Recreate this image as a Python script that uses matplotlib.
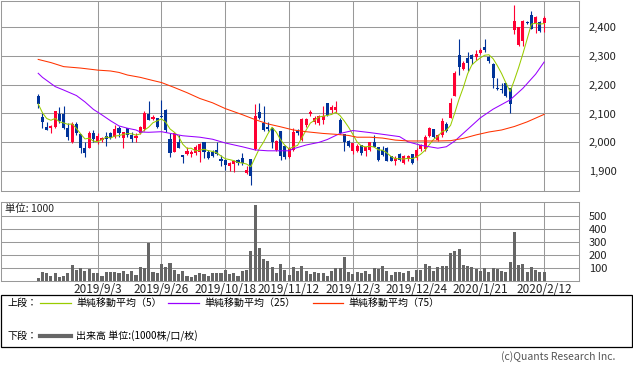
import numpy as np
import pandas as pd
import matplotlib
matplotlib.use("Agg")
from matplotlib import pyplot as plt
from matplotlib.patches import Rectangle
from matplotlib.lines import Line2D

plt.rcParams['font.family'] = ['Noto Sans CJK JP', 'DejaVu Sans']

# daily candles, 2019/8/14 .. 2020/2/12 (trading days)
opens = [2160, 2089, 2054, 2049, 2054, 2097, 2097, 2051, 2000, 2062,
         2029, 1980, 1982, 2031, 2005, 2008, 2023, 2034, 2020, 2049,
         2016, 2051, 2026, 2014, 2034, 2045, 2097, 2080, 2083, 2091,
         2112, 2011, 1968, 2003, 1957, 1960, 1960, 1962, 1968, 2003,
         1968, 1968, 1974, 1942, 1939, 1920, 1925, 1939, 1945, 1893,
         1941, 1976, 2104, 2068, 2055, 2050, 1975, 2038, 1989, 1948,
         1975, 2038, 2009, 2061, 2099, 2069, 2067, 2079, 2136, 2113,
         2113, 2079, 2030, 2004, 1969, 1969, 1992, 1972, 1975, 2000,
         1984, 1975, 1981, 1952, 1934, 1961, 1929, 1941, 1961, 1946,
         1978, 1978, 2023, 2046, 2010, 2025, 2063, 2086, 2161, 2301,
         2253, 2293, 2301, 2296, 2308, 2331, 2294, 2271, 2187, 2184,
         2204, 2187, 2388, 2338, 2352, 2415, 2441, 2414, 2416, 2414]
highs = [2167, 2103, 2072, 2060, 2109, 2123, 2126, 2066, 2072, 2072,
         2029, 2003, 2040, 2043, 2034, 2020, 2035, 2037, 2060, 2057,
         2037, 2051, 2037, 2034, 2058, 2109, 2143, 2095, 2086, 2147,
         2114, 2031, 2031, 2026, 1957, 1985, 1974, 1991, 1997, 2003,
         1974, 1974, 2003, 1957, 1941, 1933, 1939, 1941, 1965, 1918,
         1941, 2133, 2138, 2127, 2070, 2055, 2010, 2040, 1992, 1985,
         2050, 2045, 2085, 2085, 2111, 2090, 2095, 2125, 2138, 2128,
         2142, 2085, 2030, 2010, 1998, 1995, 1992, 1984, 2000, 2027,
         1984, 1986, 1984, 1952, 1952, 1963, 1955, 1955, 1961, 1981,
         1995, 2027, 2052, 2048, 2030, 2086, 2071, 2155, 2247, 2359,
         2283, 2313, 2305, 2318, 2328, 2356, 2299, 2274, 2221, 2204,
         2207, 2187, 2475, 2400, 2423, 2420, 2453, 2437, 2420, 2438]
lows = [2118, 2051, 2043, 2034, 2049, 2066, 2045, 2008, 1997, 2026,
        1965, 1951, 1980, 2003, 1995, 2003, 1989, 2011, 2014, 2020,
        1980, 2020, 2003, 2003, 2030, 2041, 2078, 2077, 2049, 2083,
        2037, 1951, 1966, 1980, 1930, 1957, 1951, 1957, 1933, 1945,
        1943, 1951, 1957, 1920, 1905, 1902, 1896, 1922, 1922, 1891,
        1851, 1974, 2080, 2040, 2040, 1981, 1972, 1940, 1943, 1945,
        1972, 2025, 2005, 2055, 2090, 2065, 2060, 2062, 2092, 2102,
        2102, 2028, 1969, 1985, 1961, 1966, 1958, 1952, 1969, 1984,
        1934, 1952, 1934, 1934, 1923, 1934, 1926, 1936, 1926, 1940,
        1972, 1970, 2020, 2015, 2005, 2020, 2035, 2083, 2161, 2232,
        2250, 2247, 2270, 2285, 2305, 2314, 2274, 2187, 2180, 2170,
        2157, 2103, 2374, 2333, 2332, 2408, 2391, 2379, 2382, 2382]
closes = [2133, 2072, 2043, 2058, 2109, 2075, 2051, 2020, 2064, 2031,
          1980, 1965, 2034, 2011, 2023, 2014, 2013, 2014, 2046, 2031,
          2035, 2026, 2011, 2022, 2054, 2100, 2078, 2087, 2054, 2087,
          2043, 1962, 2031, 1982, 1951, 1970, 1966, 1985, 1993, 1968,
          1945, 1954, 1960, 1937, 1922, 1930, 1936, 1928, 1928, 1904,
          1884, 2091, 2083, 2043, 2045, 2000, 2006, 1952, 1948, 1981,
          2035, 2032, 2081, 2081, 2105, 2083, 2090, 2093, 2096, 2121,
          2121, 2032, 2000, 1989, 1998, 1989, 1963, 1984, 2000, 1984,
          1940, 1958, 1937, 1937, 1946, 1940, 1952, 1952, 1929, 1975,
          1990, 2018, 2050, 2020, 2025, 2075, 2040, 2136, 2239, 2261,
          2276, 2274, 2290, 2305, 2318, 2320, 2283, 2221, 2184, 2182,
          2159, 2133, 2420, 2400, 2420, 2413, 2393, 2434, 2385, 2430]
volumes = [26, 68, 63, 39, 63, 34, 39, 63, 126, 87,
           100, 74, 95, 63, 63, 39, 68, 71, 68, 63,
           74, 55, 79, 47, 110, 97, 292, 71, 63, 134,
           110, 142, 82, 55, 79, 39, 29, 47, 60, 55,
           39, 63, 58, 58, 87, 53, 60, 39, 79, 87,
           229, 587, 253, 166, 153, 108, 60, 134, 82, 47,
           108, 74, 118, 74, 55, 71, 63, 63, 39, 79,
           97, 103, 182, 71, 55, 71, 63, 79, 55, 100,
           89, 118, 79, 47, 68, 71, 60, 79, 32, 87,
           87, 134, 118, 79, 108, 118, 118, 218, 229, 245,
           126, 113, 105, 95, 79, 100, 71, 100, 95, 79,
           66, 150, 379, 126, 134, 71, 110, 87, 71, 71]

# 25 / 75 day averages (candle index, price)
ma25_idx = [0, 1, 4, 6, 9, 11, 13, 15, 17, 19, 21, 23, 24, 26, 29, 34, 38, 41,
            44, 48, 51, 54, 59, 60, 63, 66, 68, 71, 74, 78, 82, 85, 87, 90, 94,
            96, 98, 101, 104, 107, 111, 114, 117, 119]
ma25_val = [2239, 2225, 2193, 2181, 2162, 2140, 2114, 2095, 2075, 2057, 2049,
            2043, 2036, 2035, 2037, 2023, 2018, 2011, 1998, 1985, 1974, 1971,
            1971, 1978, 1991, 2000, 2010, 2031, 2041, 2034, 2026, 2020, 2002,
            1990, 1980, 1985, 2005, 2045, 2085, 2115, 2147, 2187, 2236, 2278]
ma75_idx = [0, 3, 6, 10, 14, 17, 19, 21, 24, 27, 29, 32, 35, 38, 41, 44, 48,
            51, 54, 57, 60, 63, 67, 70, 73, 75, 78, 81, 84, 87, 90, 94, 97, 100,
            103, 106, 109, 112, 115, 119]
ma75_val = [2287, 2276, 2262, 2257, 2250, 2247, 2242, 2233, 2225, 2214, 2207,
            2190, 2172, 2152, 2137, 2117, 2096, 2079, 2064, 2054, 2043, 2037,
            2031, 2028, 2024, 2018, 2018, 2015, 2008, 2005, 2005, 2005, 2006,
            2014, 2026, 2036, 2043, 2055, 2071, 2097]

tick_idx = [14, 29, 44, 59, 74, 89, 104, 119]
tick_labels = ["2019/9/3", "2019/9/26", "2019/10/18", "2019/11/12",
               "2019/12/3", "2019/12/24", "2020/1/21", "2020/2/12"]
price_ticks = [1900, 2000, 2100, 2200, 2300, 2400]
vol_ticks = [100, 200, 300, 400, 500]

W, H = 633, 375
fig = plt.figure(figsize=(W / 100, H / 100), dpi=100)


def box(x0, y0, x1, y1):
    return [x0 / W, 1 - y1 / H, (x1 - x0) / W, (y1 - y0) / H]


GRID = '#999999'
UP, DOWN = '#ff0033', '#003399'
C5, C25, C75 = '#99cc00', '#9900ff', '#ff3300'

ax = fig.add_axes(box(1, 1, 579, 190.7))
axv = fig.add_axes(box(1, 201.7, 579, 281))

df = pd.DataFrame({'o': opens, 'h': highs, 'l': lows, 'c': closes, 'v': volumes})
x = np.arange(len(df))
up = df.c >= df.o
col = np.where(up, UP, DOWN)

ax.vlines(x, df.l, df.h, colors=col, lw=0.8, zorder=3)
body = (df.c - df.o).abs().clip(lower=2)
ax.bar(x, body, bottom=np.minimum(df.o, df.c), width=0.72, color=col,
       lw=0, zorder=3)

ma5 = df.c.rolling(5, min_periods=1).mean()
ax.plot(x, ma5, color=C5, lw=0.75, zorder=4)
ax.plot(ma25_idx, ma25_val, color=C25, lw=0.75, zorder=4)
ax.plot(ma75_idx, ma75_val, color=C75, lw=0.75, zorder=4)

axv.bar(x, df.v, width=0.72, color='#666666', lw=0, zorder=3)

for a in (ax, axv):
    a.set_xlim(-8.75, 127.2)
    a.set_xticks(tick_idx)
    a.grid(True, color=GRID, lw=0.75)
    a.set_axisbelow(True)
    for s in a.spines.values():
        s.set_color(GRID)
        s.set_linewidth(0.75)
    a.yaxis.tick_right()
    a.tick_params(length=0, labelsize=8, pad=7, colors='#222222')

ax.set_ylim(1833, 2489)
ax.set_yticks(price_ticks)
ax.set_yticklabels([f"{v:,}" for v in price_ticks])
ax.tick_params(axis='x', labelbottom=False)

axv.set_ylim(0, 610)
axv.set_yticks(vol_ticks)
axv.set_yticklabels([str(v) for v in vol_ticks])
axv.set_xticklabels(tick_labels)
axv.tick_params(axis='x', pad=1.5, labelsize=8.5)

fig.text(5 / W, 1 - 209 / H, "単位: 1000", fontsize=7.5, va='center', color='#222222')

# legend box
fig.patches.append(Rectangle((1 / W, 1 - 347 / H), 631 / W, 52 / H,
                             transform=fig.transFigure, fill=False,
                             edgecolor='black', lw=0.9))
fs = 7.2
ty1, ty2 = 1 - 303 / H, 1 - 336 / H
fig.text(8 / W, ty1, "上段：", fontsize=fs, va='center')
fig.text(8 / W, ty2, "下段：", fontsize=fs, va='center')
for x0, x1, c, t in [(40, 71, C5, "単純移動平均（5）"),
                     (168, 199, C25, "単純移動平均（25）"),
                     (313, 343, C75, "単純移動平均（75）")]:
    fig.lines.append(Line2D([x0 / W, x1 / W], [ty1, ty1], transform=fig.transFigure,
                            color=c, lw=0.9))
    fig.text((x1 + 5) / W, ty1, t, fontsize=fs, va='center')
fig.lines.append(Line2D([40 / W, 71 / W], [ty2, ty2], transform=fig.transFigure,
                        color='#666666', lw=3))
fig.text(76 / W, ty2, "出来高 単位:(1000株/口/枚)", fontsize=fs, va='center')

fig.text(615 / W, 1 - 357 / H, "(c)Quants Research Inc.", fontsize=7.5,
         ha='right', va='center', color='#555555')

fig.savefig("out.png", dpi=100)
